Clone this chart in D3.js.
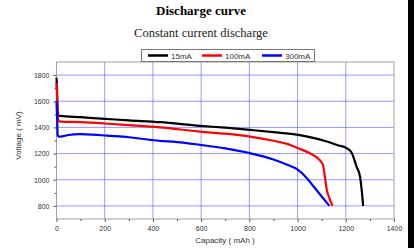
<!DOCTYPE html>
<html lang="en">
<head>
<meta charset="UTF-8">
<title>Discharge curve</title>
<script src="https://d3js.org/d3.v7.min.js"></script>
<style>
  body { margin: 0; background: #fff; }
  svg { display: block; }
  .tick text { font-family: Arial, "Liberation Sans", sans-serif; font-size: 7px; fill: #333; }
</style>
</head>
<body>
<div id="chart"></div>
<script>
// Series: [capacity mAh, voltage mV]
const ma15 = [[0, 1780], [2, 1700], [5, 1520], [8, 1492], [15, 1488], [100, 1478], [200, 1466], [300, 1454],
  [430, 1440], [595, 1412], [700, 1398], [803, 1381], [900, 1364], [1003, 1343], [1060, 1322],
  [1121, 1292], [1170, 1262], [1204, 1241], [1224, 1208], [1245, 1099], [1259, 1025], [1266, 920], [1272, 800]];
const ma100 = [[0, 1740], [2, 1650], [5, 1480], [8, 1450], [15, 1445], [100, 1440], [200, 1430], [300, 1418],
  [429, 1401], [595, 1368], [700, 1352], [803, 1330], [900, 1298], [960, 1272], [1002, 1241], [1051, 1203],
  [1086, 1160], [1105, 1114], [1114, 1013], [1121, 924], [1132, 860], [1145, 800]];
const ma300 = [[0, 1600], [2, 1500], [5, 1340], [10, 1330], [15, 1330], [50, 1342], [97, 1348], [150, 1345],
  [208, 1337], [300, 1325], [429, 1297], [500, 1288], [595, 1267], [700, 1240], [803, 1203],
  [900, 1155], [960, 1112], [1002, 1076], [1035, 1020], [1065, 952], [1100, 872], [1132, 800]];

const series = [
  { name: "15mA", color: "#000000", values: ma15 },
  { name: "100mA", color: "#ff0000", values: ma100 },
  { name: "300mA", color: "#0000ff", values: ma300 }
];

const xTicks = [0, 200, 400, 600, 800, 1000, 1200, 1400];
const yTicks = [800, 1000, 1200, 1400, 1600, 1800];

const W = 414, H = 248;
const margin = { top: 62, right: 20, bottom: 29, left: 56.5 };
const width = 394 - margin.left;
const height = H - margin.top - margin.bottom;

const svg = d3.select("#chart").append("svg")
  .attr("width", W).attr("height", H);

// titles
svg.append("text").attr("x", 201).attr("y", 15)
  .attr("text-anchor", "middle")
  .style("font-family", "'Liberation Serif', 'Times New Roman', serif")
  .style("font-weight", "bold").style("font-size", "13px")
  .text("Discharge curve");
svg.append("text").attr("x", 201).attr("y", 37)
  .attr("text-anchor", "middle")
  .style("font-family", "'Liberation Serif', 'Times New Roman', serif")
  .style("font-size", "12.5px").style("fill", "#222")
  .text("Constant current discharge");

const g = svg.append("g").attr("transform", `translate(${margin.left},${margin.top})`);

const x = d3.scaleLinear().domain([0, 1400]).range([0, width]);
const y = d3.scaleLinear().domain([700, 1900]).range([height, 0]);

// grid
g.append("g").selectAll("line").data(xTicks.slice(1, -1)).join("line")
  .attr("x1", d => x(d)).attr("x2", d => x(d))
  .attr("y1", 0).attr("y2", height)
  .attr("stroke", "#5555ff").attr("stroke-opacity", 0.6).attr("stroke-width", 1);
g.append("g").selectAll("line").data(yTicks).join("line")
  .attr("x1", 0).attr("x2", width)
  .attr("y1", d => y(d)).attr("y2", d => y(d))
  .attr("stroke", "#5555ff").attr("stroke-opacity", 0.6).attr("stroke-width", 1);

// frame
g.append("rect").attr("width", width).attr("height", height)
  .attr("fill", "none").attr("stroke", "#a0a0a0").attr("stroke-width", 1);

// axes
g.append("g").attr("transform", `translate(0,${height})`)
  .call(d3.axisBottom(x).tickValues(xTicks).tickFormat(d3.format("d")).tickSize(3).tickPadding(4));
g.append("g").attr("transform", `translate(0,${height})`)
  .call(d3.axisBottom(x).tickValues(d3.range(100, 1400, 200)).tickSize(2).tickFormat(""));
g.append("g")
  .call(d3.axisLeft(y).tickValues(yTicks).tickFormat(d3.format("d")).tickSize(3).tickPadding(4));
g.append("g")
  .call(d3.axisLeft(y).tickValues(d3.range(900, 1900, 200)).tickSize(2).tickFormat(""));
g.selectAll(".domain").remove();
g.selectAll(".tick line").attr("stroke", "#555");

// axis labels
svg.append("text").attr("x", 225).attr("y", 243)
  .attr("text-anchor", "middle")
  .style("font-family", "Arial, 'Liberation Sans', sans-serif").style("font-size", "8px").style("fill", "#333")
  .text("Capacity ( mAh )");
svg.append("text").attr("transform", "rotate(-90)")
  .attr("x", -(margin.top + height / 2 - 5)).attr("y", 21)
  .attr("text-anchor", "middle")
  .style("font-family", "Arial, 'Liberation Sans', sans-serif").style("font-size", "8px").style("fill", "#333")
  .text("Voltage ( mV)");

// curves
const line = d3.line().x(d => x(d[0])).y(d => y(d[1])).curve(d3.curveMonotoneX);
g.selectAll(".curve").data(series).join("path")
  .attr("class", "curve")
  .attr("d", d => line(d.values))
  .attr("fill", "none")
  .attr("stroke", d => d.color)
  .attr("stroke-width", 2.2)
  .attr("stroke-linejoin", "round");

// legend
const lg = svg.append("g");
lg.append("rect").attr("x", 141.5).attr("y", 49.5).attr("width", 173).attr("height", 12)
  .attr("fill", "#fff").attr("stroke", "#777").attr("stroke-width", 1);
const lx = [148, 202, 262];
const item = lg.selectAll(".item").data(series).join("g")
  .attr("transform", (d, i) => `translate(${lx[i]},55.5)`);
item.append("line").attr("x1", 0).attr("x2", 20)
  .attr("stroke", d => d.color).attr("stroke-width", 2.5);
item.append("text").attr("x", 23).attr("y", 3)
  .style("font-family", "Arial, 'Liberation Sans', sans-serif").style("font-size", "8px").style("fill", "#333")
  .text(d => d.name);

// black strip on right edge
svg.append("rect").attr("x", 408).attr("y", 0).attr("width", 6).attr("height", H).attr("fill", "#000");
</script>
</body>
</html>
